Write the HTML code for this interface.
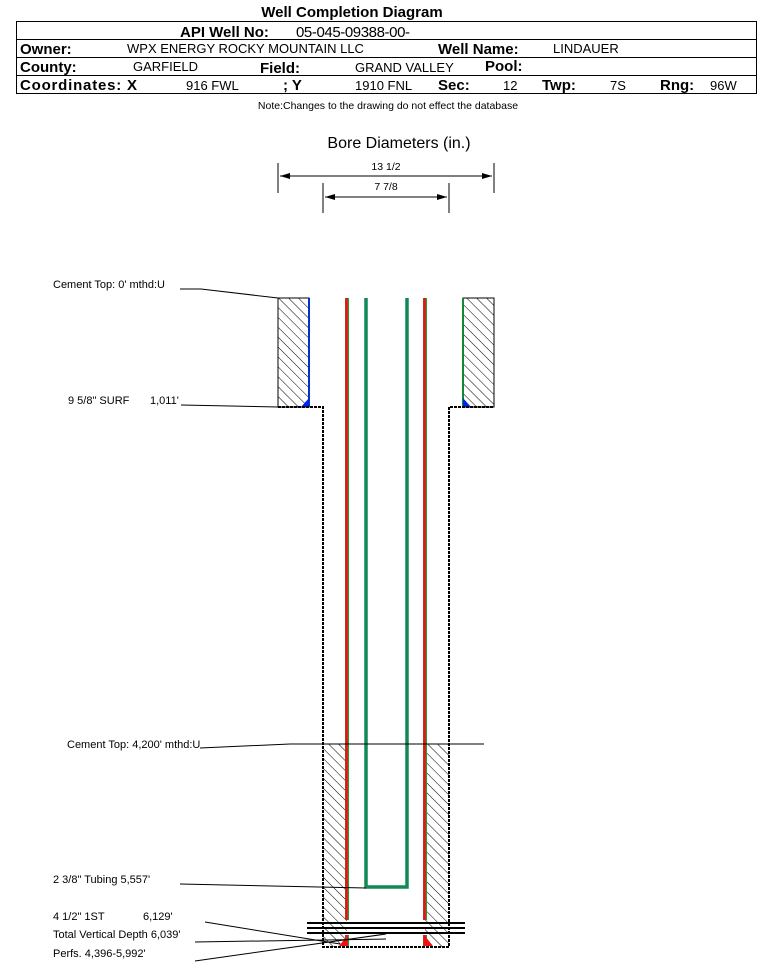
<!DOCTYPE html>
<html><head><meta charset="utf-8"><style>
html,body{margin:0;padding:0;background:#fff;}
svg{display:block;font-family:"Liberation Sans",Arial,sans-serif;}
</style></head><body>
<svg width="759" height="962" viewBox="0 0 759 962" xmlns="http://www.w3.org/2000/svg">
<defs>
<pattern id="h" patternUnits="userSpaceOnUse" width="7" height="7" patternTransform="rotate(-45)">
<rect width="7" height="7" fill="#fff"/><line x1="0" y1="0" x2="0" y2="7" stroke="#000" stroke-width="1"/>
</pattern>
<marker id="a" markerWidth="10" markerHeight="6" refX="10" refY="3" orient="auto"><path d="M0,0L10,3L0,6z" fill="#000"/></marker>
</defs>
<text x="352" y="17" font-size="15" font-weight="bold" text-anchor="middle">Well Completion Diagram</text>
<rect x="16.5" y="21.5" width="740" height="72" fill="none" stroke="#000"/>
<line x1="16" y1="39.5" x2="757" y2="39.5" stroke="#000"/>
<line x1="16" y1="57.5" x2="757" y2="57.5" stroke="#000"/>
<line x1="16" y1="75.5" x2="757" y2="75.5" stroke="#000"/>
<g font-size="15" font-weight="bold">
<text x="180" y="37">API Well No:</text>
<text x="20" y="54">Owner:</text><text x="438" y="54">Well Name:</text>
<text x="20" y="72">County:</text><text x="260" y="73">Field:</text><text x="485" y="71">Pool:</text>
<text x="20" y="90" textLength="117">Coordinates: X</text><text x="283" y="90">; Y</text><text x="438" y="90">Sec:</text><text x="542" y="90">Twp:</text><text x="660" y="90">Rng:</text>
</g>
<g font-size="13">
<text x="296" y="37" font-size="15" textLength="114">05-045-09388-00-</text>
<text x="127" y="53">WPX ENERGY ROCKY MOUNTAIN LLC</text><text x="553" y="53">LINDAUER</text>
<text x="133" y="71">GARFIELD</text><text x="355" y="72">GRAND VALLEY</text>
<text x="186" y="90">916 FWL</text><text x="355" y="90">1910 FNL</text><text x="503" y="90">12</text><text x="610" y="90">7S</text><text x="710" y="90">96W</text>
</g>
<text x="388" y="109" font-size="10.5" text-anchor="middle">Note:Changes to the drawing do not effect the database</text>
<text x="399" y="148" font-size="16" text-anchor="middle">Bore Diameters (in.)</text>
<g stroke="#000" stroke-width="1">
<line x1="278" y1="163" x2="278" y2="193"/><line x1="494" y1="163" x2="494" y2="193"/>
<line x1="323" y1="183" x2="323" y2="213"/><line x1="449" y1="183" x2="449" y2="213"/>
<line x1="386" y1="176" x2="280" y2="176" marker-end="url(#a)"/><line x1="386" y1="176" x2="492" y2="176" marker-end="url(#a)"/>
<line x1="386" y1="197" x2="325" y2="197" marker-end="url(#a)"/><line x1="386" y1="197" x2="447" y2="197" marker-end="url(#a)"/>
</g>
<text x="386" y="170" font-size="10.5" text-anchor="middle">13 1/2</text>
<text x="386" y="190" font-size="10.5" text-anchor="middle">7 7/8</text>
<rect x="278" y="298" width="31" height="109" fill="url(#h)" stroke="#000"/>
<rect x="463" y="298" width="31" height="109" fill="url(#h)" stroke="#000"/>
<line x1="309" y1="298" x2="309" y2="407" stroke="#0033cc" stroke-width="2"/>
<line x1="463" y1="298" x2="463" y2="407" stroke="#118833" stroke-width="2"/>
<path d="M301,407L309,398L309,407z" fill="#0022ee"/><path d="M463,398L471,407L463,407z" fill="#0022ee"/>
<rect x="323" y="744" width="24" height="203" fill="url(#h)"/>
<rect x="425" y="744" width="24" height="203" fill="url(#h)"/>
<rect x="347" y="921" width="78" height="14" fill="#fff"/>
<path d="M278,407H323V947H449V407H494" fill="none" stroke="#000" stroke-width="2" stroke-dasharray="3,1"/>
<g stroke-width="4">
<line x1="347" y1="298" x2="347" y2="920" stroke="#2a9a3a"/><line x1="425" y1="298" x2="425" y2="920" stroke="#2a9a3a"/>
<line x1="347" y1="935" x2="347" y2="946" stroke="#2a9a3a"/><line x1="425" y1="935" x2="425" y2="946" stroke="#2a9a3a"/>
</g>
<g stroke="#ee1111" stroke-width="2.5">
<line x1="346.5" y1="298" x2="346.5" y2="920"/><line x1="424.5" y1="298" x2="424.5" y2="920"/>
<line x1="346.5" y1="935" x2="346.5" y2="946"/><line x1="424.5" y1="935" x2="424.5" y2="946"/>
</g>
<path d="M339,946L347,936V946z" fill="#ee1111"/><path d="M425,936L433,946H425z" fill="#ee1111"/>
<path d="M366,298V887H407V298" fill="none" stroke="#118855" stroke-width="3.5"/>
<g stroke="#000" stroke-width="2">
<line x1="307" y1="923" x2="465" y2="923"/><line x1="307" y1="928" x2="465" y2="928"/><line x1="307" y1="933" x2="465" y2="933"/>
</g>
<g font-size="11">
<text x="53" y="288">Cement Top: 0' mthd:U</text>
<text x="68" y="404">9 5/8" SURF</text><text x="150" y="404">1,011'</text>
<text x="67" y="748">Cement Top: 4,200' mthd:U</text>
<text x="53" y="883">2 3/8" Tubing 5,557'</text>
<text x="53" y="920">4 1/2" 1ST</text><text x="143" y="920">6,129'</text>
<text x="53" y="938">Total Vertical Depth 6,039'</text>
<text x="53" y="957">Perfs. 4,396-5,992'</text>
</g>
<g stroke="#000" stroke-width="1" fill="none">
<path d="M180,289H201L278,298"/>
<path d="M181,405L278,407"/>
<path d="M200,748L290,744H484"/>
<path d="M180,884L366,888"/>
<path d="M205,922L340,944"/>
<path d="M195,942L386,939"/>
<path d="M195,961L386,934"/>
</g>
</svg>
</body></html>
